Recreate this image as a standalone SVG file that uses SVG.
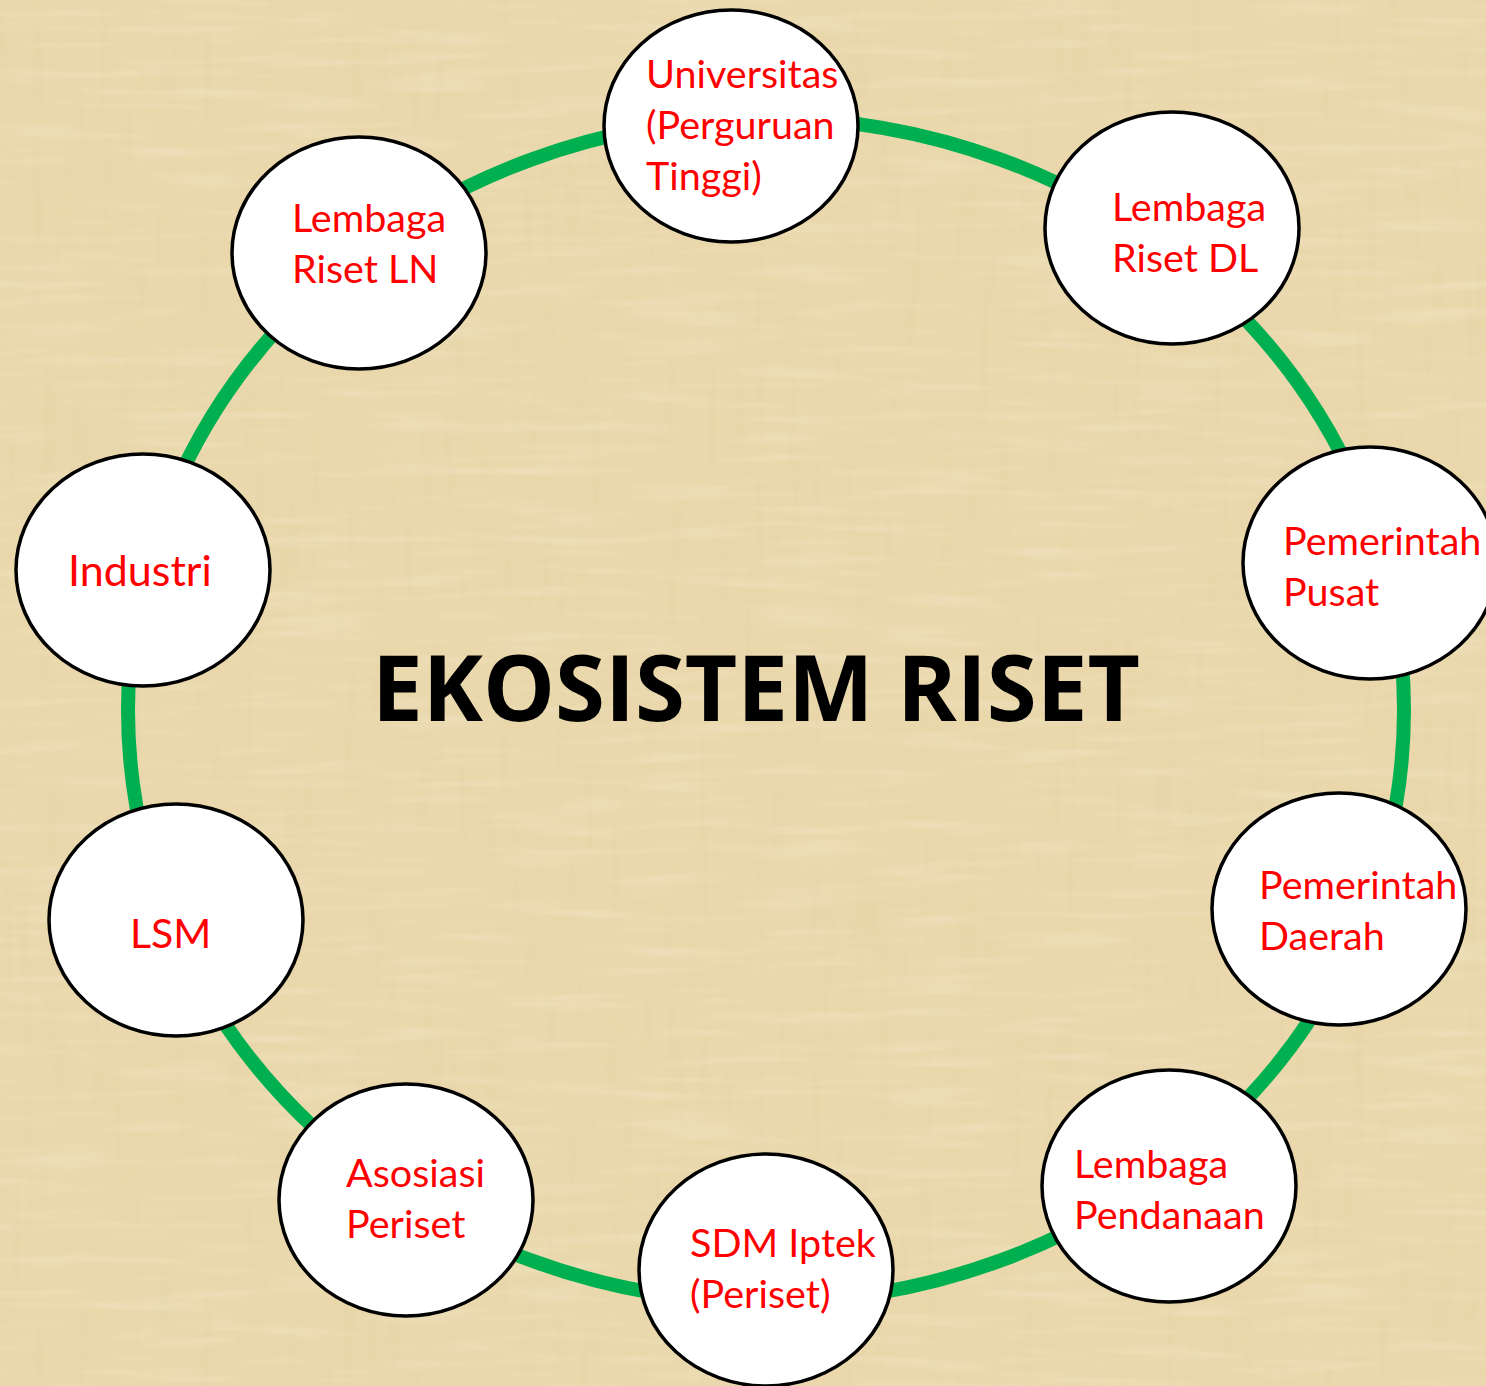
<svg xmlns="http://www.w3.org/2000/svg" width="1486" height="1386" viewBox="0 0 1486 1386">
  <style>
    .node { fill: #FFFFFF; stroke: #000000; stroke-width: 3.5; }
    .lbl { fill: #FF0000; font-family: "Lato", "Open Sans", "Liberation Sans", sans-serif; font-size: 39.5px; }
    .big { font-size: 43px; }
    .mid { font-size: 41px; }
    .title { fill: #000000; font-family: "Open Sans", "Lato", "Liberation Sans", sans-serif; font-size: 92px; font-weight: bold; }
    .ring { fill: none; stroke: #00B050; stroke-width: 14; }
  </style>
  <defs>
    <filter id="paper" x="0" y="0" width="1486" height="1386" filterUnits="userSpaceOnUse">
      <feTurbulence type="fractalNoise" baseFrequency="0.09 0.008" numOctaves="2" seed="4" result="v"/>
      <feColorMatrix in="v" type="matrix" values="0 0 0 0 0.75  0 0 0 0 0.62  0 0 0 0 0.35  0.7 0 0 0 -0.33" result="vc"/>
      <feTurbulence type="fractalNoise" baseFrequency="0.008 0.09" numOctaves="2" seed="9" result="h"/>
      <feColorMatrix in="h" type="matrix" values="0 0 0 0 0.97  0 0 0 0 0.92  0 0 0 0 0.78  0.6 0 0 0 -0.3" result="hc"/>
      <feTurbulence type="fractalNoise" baseFrequency="0.012" numOctaves="3" seed="2" result="b"/>
      <feColorMatrix in="b" type="matrix" values="0 0 0 0 0.82  0 0 0 0 0.7  0 0 0 0 0.44  0.7 0 0 0 -0.33" result="bc"/>
      <feMerge>
        <feMergeNode in="bc"/>
        <feMergeNode in="vc"/>
        <feMergeNode in="hc"/>
      </feMerge>
    </filter>
  </defs>

  <rect x="0" y="0" width="1486" height="1386" fill="#EAD8AC"/>
  <rect x="0" y="0" width="1486" height="1386" filter="url(#paper)"/>

  <g id="connectors">
    <ellipse class="ring" cx="766" cy="710" rx="638" ry="592"/>
  </g>

  <g id="node-universitas">
    <ellipse class="node" cx="731" cy="126" rx="127" ry="116"/>
    <text class="lbl" x="646" y="88">Universitas</text>
    <text class="lbl" x="646" y="139">(Perguruan</text>
    <text class="lbl" x="646" y="190">Tinggi)</text>
  </g>

  <g id="node-lembaga-riset-dl">
    <ellipse class="node" cx="1172" cy="228" rx="127" ry="116"/>
    <text class="lbl" x="1112" y="221">Lembaga</text>
    <text class="lbl" x="1112" y="272">Riset DL</text>
  </g>

  <g id="node-pemerintah-pusat">
    <ellipse class="node" cx="1370" cy="563" rx="127" ry="116"/>
    <text class="lbl" x="1283" y="555">Pemerintah</text>
    <text class="lbl" x="1283" y="606">Pusat</text>
  </g>

  <g id="node-pemerintah-daerah">
    <ellipse class="node" cx="1339" cy="909" rx="127" ry="116"/>
    <text class="lbl" x="1259" y="899">Pemerintah</text>
    <text class="lbl" x="1259" y="950">Daerah</text>
  </g>

  <g id="node-lembaga-pendanaan">
    <ellipse class="node" cx="1169" cy="1186" rx="127" ry="116"/>
    <text class="lbl" x="1074" y="1178">Lembaga</text>
    <text class="lbl" x="1074" y="1229">Pendanaan</text>
  </g>

  <g id="node-sdm-iptek">
    <ellipse class="node" cx="766" cy="1270" rx="127" ry="116"/>
    <text class="lbl" x="690" y="1257">SDM Iptek</text>
    <text class="lbl" x="690" y="1308">(Periset)</text>
  </g>

  <g id="node-asosiasi-periset">
    <ellipse class="node" cx="406" cy="1200" rx="127" ry="116"/>
    <text class="lbl" x="346" y="1187">Asosiasi</text>
    <text class="lbl" x="346" y="1238">Periset</text>
  </g>

  <g id="node-lsm">
    <ellipse class="node" cx="176" cy="920" rx="127" ry="116"/>
    <text class="lbl mid" x="130" y="948">LSM</text>
  </g>

  <g id="node-industri">
    <ellipse class="node" cx="143" cy="570" rx="127" ry="116"/>
    <text class="lbl big" x="68" y="586">Industri</text>
  </g>

  <g id="node-lembaga-riset-ln">
    <ellipse class="node" cx="359" cy="253" rx="127" ry="116"/>
    <text class="lbl" x="292" y="232">Lembaga</text>
    <text class="lbl" x="292" y="283">Riset LN</text>
  </g>

  <g id="title">
    <text class="title" x="372" y="721" textLength="768" lengthAdjust="spacingAndGlyphs">EKOSISTEM RISET</text>
  </g>
</svg>
